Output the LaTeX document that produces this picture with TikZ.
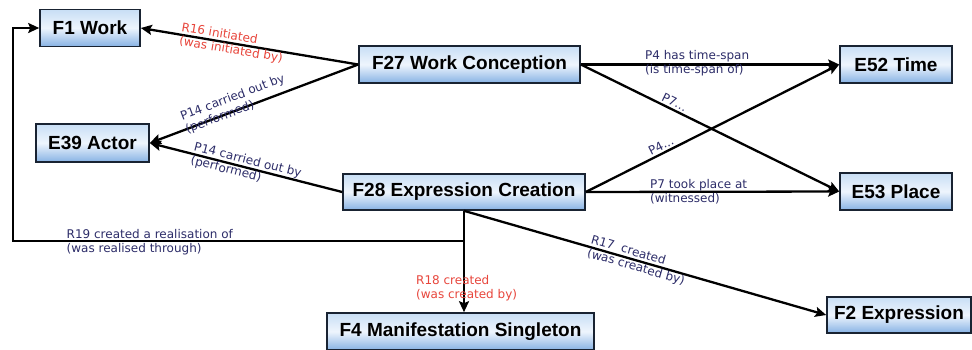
\documentclass[tikz,border=0pt]{standalone}
\usepackage{fontspec}
\usetikzlibrary{arrows.meta,shadings}
\newfontfamily\boxfont{Liberation Sans}
\newfontfamily\lblfont{DejaVu Sans}
\definecolor{lblred}{RGB}{232,70,60}
\definecolor{lblblue}{RGB}{45,45,105}
\definecolor{boxline}{RGB}{25,35,50}
\definecolor{boxtop}{RGB}{200,222,245}
\definecolor{boxmid}{RGB}{238,245,253}
\definecolor{boxbot}{RGB}{135,178,228}
\tikzset{
  cbox/.style={draw=boxline, line width=1.6pt, inner sep=0pt,
    top color=boxtop, bottom color=boxbot, middle color=boxmid,
    font=\boxfont\bfseries\fontsize{19}{22}\selectfont},
  arr/.style={line width=2.3pt, -{Stealth[length=11pt,width=10pt,inset=2pt]}},
  lbl/.style={inner sep=0pt, align=left, font=\lblfont\fontsize{12}{14}\selectfont},
  lred/.style={lbl, text=lblred},
  lblue/.style={lbl, text=lblblue}
}
\begin{document}
\begin{tikzpicture}[x=1pt,y=-1pt]
\useasboundingbox[fill=white] (0,0) rectangle (972,349);
% boxes
\node[cbox, minimum width=100pt, minimum height=37pt] (F1) at (90,28) {F1 Work};
\node[cbox, minimum width=113pt, minimum height=38pt] (E39) at (92.5,143) {E39 Actor};
\node[cbox, minimum width=221pt, minimum height=37pt] (F27) at (469.5,64.5) {F27 Work Conception};
\node[cbox, minimum width=242pt, minimum height=36pt] (F28) at (464,192) {F28 Expression Creation};
\node[cbox, minimum width=112pt, minimum height=37pt] (E52) at (896,64.5) {E52 Time};
\node[cbox, minimum width=112pt, minimum height=37pt] (E53) at (896,191.5) {E53 Place};
\node[cbox, minimum width=144pt, minimum height=36pt] (F2) at (899,315) {F2 Expression};
\node[cbox, minimum width=267pt, minimum height=37pt] (F4) at (460.5,331.5) {F4 Manifestation Singleton};
% connectors
\draw[arr] (F27.west) -- (F1.east)
  node[lred, sloped, pos=0.58] {R16 initiated\\(was initiated by)};
\draw[arr] (F27.west) -- (E39.east)
  node[lblue, sloped, pos=0.58, yshift=6pt] {P14 carried out by\\(performed)};
\draw[arr] (F28.west) -- (E39.east)
  node[lblue, sloped, pos=0.5] {P14 carried out by\\(performed)};
\draw[arr] (F27.east) -- (E52.west);
\draw[arr] (F27.east) -- (E53.west)
  node[lblue, sloped, pos=0.35, above=2pt] {P7...};
\draw[arr] (F28.east) -- (E52.west)
  node[lblue, sloped, pos=0.31, above=2pt] {P4...};
\draw[arr] (F28.east) -- (E53.west);
\draw[arr] (F28.south) -- (F28.south |- F4.north);
\draw[arr] (F28.south) -- (F2.west)
  node[lblue, sloped, pos=0.48] {R17\ \ created\\(was created by)};
\coordinate (c19) at (13,241);
\draw[arr] (F28.south |- c19) -- (c19) |- (F1.west);
% horizontal labels
\node[lblue, anchor=west] (l4) at (645,63.5) {P4 has time-span\\(is time-span of)};
\node[lblue, anchor=west] (l7) at (650,192) {P7 took place at\\(witnessed)};
\node[lblue, anchor=west] (l19) at (66.5,242) {R19 created a realisation of\\(was realised through)};
\node[lred, anchor=west] (l18) at (416,288) {R18 created\\(was created by)};
\end{tikzpicture}
\end{document}
